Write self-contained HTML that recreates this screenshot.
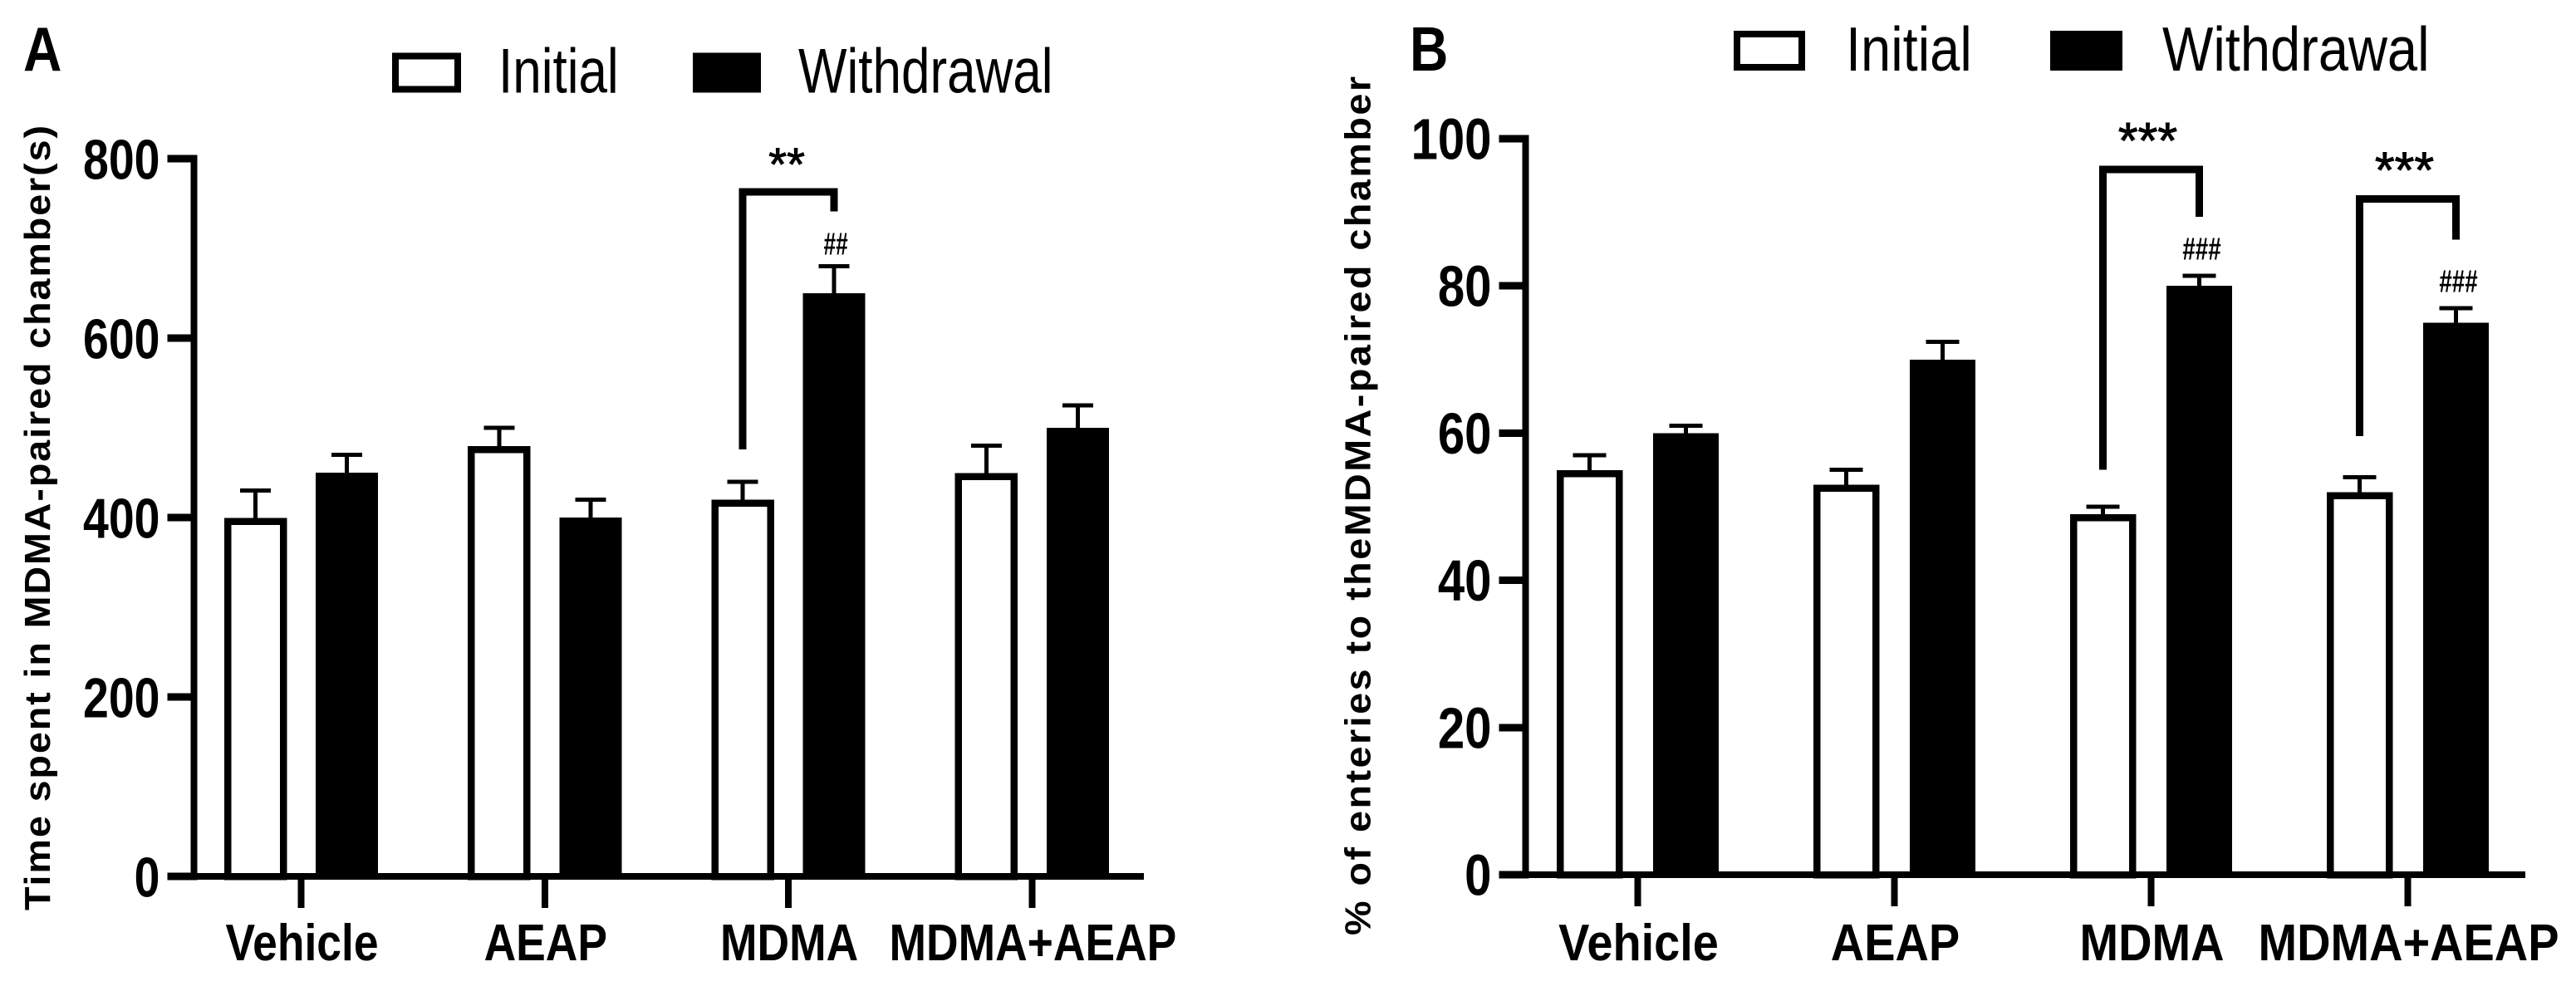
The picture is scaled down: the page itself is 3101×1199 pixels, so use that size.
<!DOCTYPE html>
<html lang="en">
<head>
<meta charset="utf-8">
<title>Initial vs Withdrawal bar charts</title>
<style>
html,body{margin:0;padding:0;background:#fff;width:3101px;height:1199px;overflow:hidden}
svg{display:block;font-family:"Liberation Sans",Arial,sans-serif}
</style>
</head>
<body>
<svg id="figure" xmlns="http://www.w3.org/2000/svg" width="3101" height="1199" viewBox="0 0 3101 1199">
<rect x="0" y="0" width="3101" height="1199" fill="#fff"/>
<g id="panel-a"></g>
<g id="panel-b"></g>
</svg>
<script>
var categories = ['Vehicle', 'AEAP', 'MDMA', 'MDMA+AEAP'];
var seriesNames = ['Initial', 'Withdrawal'];

var aTicks = [0, 200, 400, 600, 800];
var aInitial = [400, 480, 420, 450];
var aWithdrawal = [450, 400, 650, 500];
var aInitialErr = [30, 20, 20, 30];
var aWithdrawalErr = [20, 20, 30, 25];
var aBracketGroups = [2];
var aBracketTops = [763];
var aBracketLeftEnds = [476];
var aBracketRightEnds = [741];
var aStarLabels = ['**'];
var aHashLabels = ['##'];
var aHashLevels = [693];

var bTicks = [0, 20, 40, 60, 80, 100];
var bInitial = [55, 53, 49, 52];
var bWithdrawal = [60, 70, 80, 75];
var bInitialErr = [2, 2, 1, 2];
var bWithdrawalErr = [1, 2.4, 1.4, 2];
var bBracketGroups = [2, 3];
var bBracketTops = [95.8, 91.8];
var bBracketLeftEnds = [55, 59.6];
var bBracketRightEnds = [89.4, 86.3];
var bStarLabels = ['***', '***'];
var bHashLabels = ['###', '###'];
var bHashLevels = [83.6, 79.2];

var SVGNS = 'http://www.w3.org/2000/svg';

function make(parent, tag, attrs) {
  var node = document.createElementNS(SVGNS, tag);
  for (var k in attrs) node.setAttribute(k, attrs[k]);
  parent.appendChild(node);
  return node;
}
function box(parent, x0, y0, x1, y1) {
  return make(parent, 'rect', {x: x0, y: y0, width: x1 - x0, height: y1 - y0, fill: '#000', 'shape-rendering': 'crispEdges'});
}
function label(parent, x, y, str, size, sx, anchor, weight) {
  var node = make(parent, 'text', {
    transform: 'translate(' + x + ',' + y + ') scale(' + sx + ',1)',
    'font-size': size, 'font-weight': weight, 'text-anchor': anchor, fill: '#000'
  });
  node.textContent = str;
  return node;
}

function drawPanel(p) {
  var root = document.getElementById(p.id);
  var el;
  var titleStretch = 1.06;
  function yScale(v) { return p.y0 - v * p.yUnit; }
  function barLeft(g, s) { return p.x0 + g * p.groupStep + s * p.seriesStep; }
  function groupCenter(g) { return barLeft(g, 0) + (p.seriesStep + p.barW) / 2; }

  el = label(root, p.letterX, 85, p.letter, 75.6, 0.85, 'start', 'bold');
  
  

  // legend
  el = make(root, 'rect', {x: p.legWhite[0] + 4, y: p.legY + 4, width: p.legWhite[1] - p.legWhite[0] - 8, height: 40, fill: '#fff', stroke: '#000', 'stroke-width': 8, 'shape-rendering': 'crispEdges'});
  
  
  el = label(root, p.legText[0], p.legY + 48, seriesNames[0], 75.6, p.legSx, 'start', 'normal');
  
  
  el = box(root, p.legBlack[0], p.legY, p.legBlack[1], p.legY + 48);
  
  
  el = label(root, p.legText[1], p.legY + 48, seriesNames[1], 75.6, p.legSx, 'start', 'normal');
  
  

  // y title
  el = make(root, 'text', {
    transform: 'translate(' + p.titleX + ',' + p.titleY + ') rotate(-90) scale(' + titleStretch + ',1)',
    'font-size': 44, 'font-weight': 'bold', fill: '#000',
    textLength: p.titleLen / titleStretch, lengthAdjust: 'spacing'
  });
  el.textContent = p.title;
  
  

  // y ticks
  p.ticks.forEach(function (v) {
    var yy = yScale(v);
    var t = box(root, p.axisX - 32, yy - 4.5, p.axisX, yy + 4.5);
    
    
    var lab = label(root, p.axisX - 41, yy + 24.5, String(v), p.tickSize, p.tickSx, 'end', 'bold');
    
    
  });

  // bars + error bars
  [[p.initial, p.initialErr, 0], [p.withdrawal, p.withdrawalErr, 1]].forEach(function (s) {
    s[0].forEach(function (v, g) {
      var lx = barLeft(g, s[2]);
      var cx = lx + p.barW / 2;
      var yTop = yScale(v);
      var yErr = yScale(v + s[1][g]);
      var w = box(root, cx - 2.5, yErr, cx + 2.5, yTop + 2);
      
      
      var c = box(root, cx - p.capW / 2, yErr - 2.5, cx + p.capW / 2, yErr + 2.5);
      
      
      var b;
      if (s[2] === 0) {
        b = make(root, 'rect', {x: lx + 4, y: yTop + 4.5, width: p.barW - 8, height: p.y0 - yTop - 4.5, fill: '#fff', stroke: '#000', 'stroke-width': 8.5, 'shape-rendering': 'crispEdges'});
      } else {
        b = box(root, lx, yTop, lx + p.barW, p.y0);
      }
      
      
    });
  });

  // axes
  el = box(root, p.axisX - 4, yScale(p.ticks[p.ticks.length - 1]) - 4.5, p.axisX + 4, p.y0 + 4.5);
  
  
  el = box(root, p.axisX - 32, p.y0 - 4, p.xEnd, p.y0 + 4);
  
  

  // x ticks and labels
  categories.forEach(function (name, g) {
    var cx = groupCenter(g);
    var t = box(root, cx - 4, p.y0 + 4, cx + 4, p.y0 + 38);
    
    
    var lab = label(root, cx + 1, 1156, name, 62.5, p.xSx, 'middle', 'bold');
    
    
  });

  // significance brackets
  p.brGroups.forEach(function (g, i) {
    var lx = barLeft(g, 0) + p.barW / 2;
    var rx = barLeft(g, 1) + p.barW / 2;
    var yt = yScale(p.brTops[i]);
    var path = make(root, 'path', {
      d: 'M' + lx + ' ' + yScale(p.brLeft[i]) + 'V' + yt + 'H' + rx + 'V' + yScale(p.brRight[i]),
      fill: 'none', stroke: '#000', 'stroke-width': 9, 'stroke-linejoin': 'miter', 'shape-rendering': 'crispEdges'
    });
    
    
    var star = label(root, groupCenter(g) + p.starDx, yt - p.starGap, p.stars[i], p.starSize, 1, 'middle', 'normal');
    star.setAttribute('stroke', '#000');
    star.setAttribute('stroke-width', '1');
    
    
    var hash = label(root, rx + p.hashDx, yScale(p.hashLevels[i]), p.hashes[i], 38, p.hashSx, 'middle', 'bold');
    
    
  });
}

drawPanel({
  id: 'panel-a', letter: 'A', letterX: 28,
  title: 'Time spent in MDMA-paired chamber(s)', titleX: 60, titleY: 1096, titleLen: 945,
  legWhite: [472, 555], legBlack: [834, 916], legY: 63.5, legText: [600, 961], legSx: 0.82,
  axisX: 233.5, y0: 1055, yUnit: 1.08, xEnd: 1377,
  x0: 270, groupStep: 293.3, seriesStep: 110, barW: 75, capW: 37,
  tickSize: 67.6, tickSx: 0.82, xSx: 0.855,
  ticks: aTicks, initial: aInitial, withdrawal: aWithdrawal, initialErr: aInitialErr, withdrawalErr: aWithdrawalErr,
  brGroups: aBracketGroups, brTops: aBracketTops, brLeft: aBracketLeftEnds, brRight: aBracketRightEnds,
  stars: aStarLabels, hashes: aHashLabels, hashLevels: aHashLevels,
  starDx: -2, starGap: 14, starSize: 56, hashDx: 2, hashSx: 0.69
});

drawPanel({
  id: 'panel-b', letter: 'B', letterX: 1697,
  title: '% of enteries to theMDMA-paired chamber', titleX: 1649.5, titleY: 1126, titleLen: 1034,
  legWhite: [2087, 2173], legBlack: [2468, 2555], legY: 37, legText: [2222, 2603], legSx: 0.86,
  axisX: 1836.5, y0: 1053, yUnit: 8.86, xEnd: 3040,
  x0: 1874, groupStep: 309, seriesStep: 116, barW: 79, capW: 40,
  tickSize: 70, tickSx: 0.83, xSx: 0.895,
  ticks: bTicks, initial: bInitial, withdrawal: bWithdrawal, initialErr: bInitialErr, withdrawalErr: bWithdrawalErr,
  brGroups: bBracketGroups, brTops: bBracketTops, brLeft: bBracketLeftEnds, brRight: bBracketRightEnds,
  stars: bStarLabels, hashes: bHashLabels, hashLevels: bHashLevels,
  starDx: -4, starGap: 14, starSize: 61, hashDx: 3, hashSx: 0.73
});
</script>
</body>
</html>
